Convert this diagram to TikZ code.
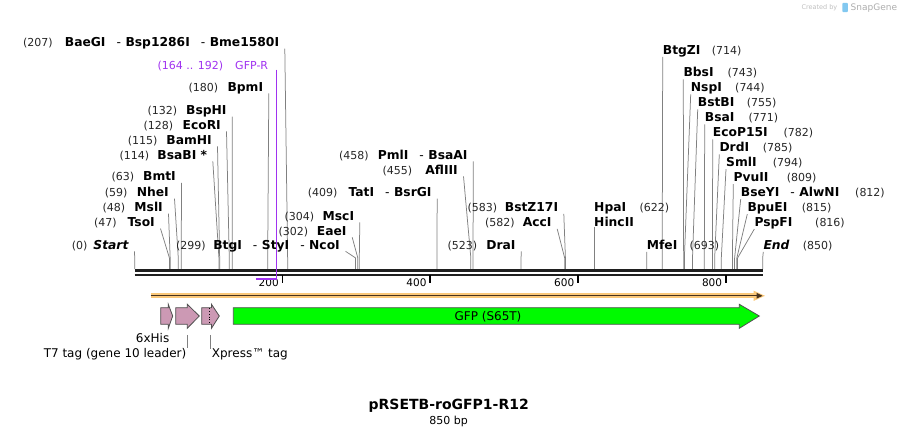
\documentclass[tikz,border=0pt]{standalone}
\usepackage{fontspec}
\setmainfont{DejaVu Sans}[ItalicFont={DejaVu Sans Oblique},
  BoldItalicFont={DejaVu Sans Bold Oblique}]
\usetikzlibrary{arrows.meta}
\definecolor{primerpurple}{RGB}{160,50,240}
\definecolor{orfback}{RGB}{250,200,122}
\definecolor{orfline}{RGB}{70,50,30}
\definecolor{tagpink}{RGB}{204,153,180}
\definecolor{gfpgreen}{RGB}{0,250,0}
\definecolor{featedge}{RGB}{80,80,80}
\definecolor{logoblue}{RGB}{130,200,240}
\tikzstyle{enzyme}=[inner sep=0pt, font=\fontsize{12.3}{14}\selectfont\bfseries]
\tikzstyle{sitenum}=[inner sep=0pt, color=black!85,
  font=\fontsize{11}{13}\selectfont]
\tikzstyle{cutline}=[draw, color=black!50, line width=0.75pt]
\tikzstyle{strand}=[draw, color=black!88]
\tikzstyle{ruler}=[draw, line width=1.7pt]
\tikzstyle{rulernum}=[inner sep=0pt, font=\fontsize{10.5}{12}\selectfont]
\tikzstyle{primer}=[inner sep=0pt, color=primerpurple,
  font=\fontsize{11}{13}\selectfont]
\tikzstyle{primerbar}=[draw=primerpurple, line width=2.3pt]
\tikzstyle{primerline}=[draw=primerpurple, line width=0.9pt]
\tikzstyle{orfbar}=[draw=orfback, line width=5pt]
\tikzstyle{orfarrow}=[draw=orfline, line width=1.2pt,
  -{Triangle[length=6pt,width=5.5pt]}]
\tikzstyle{feature}=[draw=featedge, line width=0.8pt, line join=miter]
\tikzstyle{featlabel}=[inner sep=0pt, font=\fontsize{12}{14}\selectfont]
\tikzstyle{leader}=[draw, color=black!50, line width=0.75pt]
\tikzstyle{mapname}=[inner sep=0pt, font=\fontsize{14}{16}\selectfont\bfseries]
\tikzstyle{maplength}=[inner sep=0pt, font=\fontsize{11}{13}\selectfont]
\tikzstyle{credit}=[inner sep=0pt, color=black!25]
% position of a base pair on the sequence line
\newcommand{\bp}[1]{134.7+#1*0.7388}
\newcommand{\andsite}{\hspace{11pt}{\mdseries-}\hspace{4.5pt}}
% site with its label on the left: id, bp, number x, name end x, row, number, names
\newcommand{\siteleft}[7]{%
  \coordinate (s#1) at ({\bp{#2}},269);
  \coordinate (k#1) at ({\bp{#2}},258);
  \node[sitenum, anchor=base west] (n#1) at (#3,#5+4.6) {#6};
  \node[enzyme, anchor=base east] (e#1) at (#4,#5+4.6) {#7};
  \path[cutline] ([xshift=5.5pt,yshift=-2pt]e#1.base east) -- (k#1) -- (s#1);}
% site with its label on the right: id, bp, name x, number x, row, names, number
\newcommand{\siteright}[7]{%
  \coordinate (s#1) at ({\bp{#2}},269);
  \coordinate (k#1) at ({\bp{#2}},258);
  \node[enzyme, anchor=base west] (e#1) at (#3,#5+4.6) {#6};
  \node[sitenum, anchor=base west] (n#1) at (#4,#5+4.6) {#7};
  \path[cutline] ([yshift=-2.5pt]e#1.base west) -- (k#1) -- (s#1);}
% feature arrow: id, start x, head x, tip x, colour
\newcommand{\tagarrow}[5]{%
  \path[feature, fill=#5] (#2,307.7) -- (#3,307.7) -- (#3,304.3) -- (#4,316)
    -- (#3,328.3) -- (#3,324.3) -- (#2,324.3) -- cycle;
  \coordinate (f#1) at ({(#2+#4)/2},335);}

\begin{document}
\begin{tikzpicture}[x=1pt, y=-1pt]
\useasboundingbox (0,0) rectangle (899,435);

% Draw the sequence and its ruler
\path[strand, line width=3pt] ({\bp{0}},270.7) -- ({\bp{850}},270.7);
\path[strand, line width=2pt] ({\bp{0}},275) -- ({\bp{850}},275);
\foreach \t in {200,400,600,800} {
  \path[ruler] ({\bp{\t}},275.5) -- ++(0,7.5);
  \node[rulernum, anchor=base east] (r\t) at ({\bp{\t}-3.5},286.5) {\t};
}

% Draw the sites, left labels
\siteleft{baegi}{207}{23}{279.3}{42}{(207)}{BaeGI\andsite Bsp1286I\andsite Bme1580I}
\siteleft{bpmi}{180}{188.3}{263.3}{86.7}{(180)}{BpmI}
\siteleft{bsphi}{132}{147.3}{226.7}{110}{(132)}{BspHI}
\siteleft{ecori}{128}{143.3}{221}{124.7}{(128)}{EcoRI}
\siteleft{bamhi}{115}{127.7}{212}{139.7}{(115)}{BamHI}
\siteleft{bsabi}{114}{119.3}{207.3}{154.7}{(114)}{BsaBI *}
\siteleft{bmti}{63}{111.3}{176}{176.3}{(63)}{BmtI}
\siteleft{nhei}{59}{104.7}{169}{192}{(59)}{NheI}
\siteleft{msli}{48}{102.3}{163}{207}{(48)}{MslI}
\siteleft{tsoi}{47}{94}{155}{222}{(47)}{TsoI}
\siteleft{start}{0}{71.7}{129}{244.7}{(0)}{\textit{Start}}
\siteleft{btgi}{299}{176}{340}{244.7}{(299)}{BtgI\andsite StyI\andsite NcoI}
\siteleft{eaei}{302}{278.3}{346.7}{230.7}{(302)}{EaeI}
\siteleft{msci}{304}{284.3}{354.3}{215.7}{(304)}{MscI}
\siteleft{tati}{409}{307.7}{431.7}{192}{(409)}{TatI\andsite BsrGI}
\siteleft{pmli}{458}{339}{467.7}{154.7}{(458)}{PmlI\andsite BsaAI}
\siteleft{afliii}{455}{382.3}{458}{169.7}{(455)}{AflIII}
\siteleft{bstz}{583}{467.3}{558.3}{207.3}{(583)}{BstZ17I}
\siteleft{acci}{582}{485}{551.7}{222.3}{(582)}{AccI}
\siteleft{drai}{523}{447.3}{515.7}{244.7}{(523)}{DraI}

% Draw the sites, right labels
\siteright{btgzi}{714}{662.7}{711.7}{49.7}{BtgZI}{(714)}
\siteright{bbsi}{743}{683.3}{727.3}{72.3}{BbsI}{(743)}
\siteright{nspi}{744}{690.7}{735}{87.3}{NspI}{(744)}
\siteright{bstbi}{755}{697.7}{746.7}{102.3}{BstBI}{(755)}
\siteright{bsai}{771}{704.7}{748.3}{117.3}{BsaI}{(771)}
\siteright{ecop}{782}{712.7}{783.3}{132.3}{EcoP15I}{(782)}
\siteright{drdi}{785}{719.3}{762.7}{147.3}{DrdI}{(785)}
\siteright{smli}{794}{726}{772.7}{162}{SmlI}{(794)}
\siteright{pvuii}{809}{733.3}{786.7}{177}{PvuII}{(809)}
\siteright{bseyi}{812}{740.7}{855}{192}{BseYI\andsite AlwNI}{(812)}
\siteright{bpuei}{815}{747.3}{801.7}{207}{BpuEI}{(815)}
\siteright{pspfi}{816}{754.3}{815}{222}{PspFI}{(816)}
\siteright{end}{850}{763.3}{802.7}{244.7}{\textit{End}}{(850)}
\siteright{mfei}{693}{646.7}{689.3}{244.7}{MfeI}{(693)}
% HpaI and HincII share one site
\coordinate (shpai) at ({\bp{622}},269);
\node[enzyme, anchor=base west] (ehpai) at (594,211.9) {HpaI};
\node[enzyme, anchor=base west] (ehinc) at (594,226.6) {HincII};
\node[sitenum, anchor=base west] (nhpai) at (639.3,211.9) {(622)};
\path[cutline] (shpai |- ehinc.south) -- (shpai);

% Draw the primer
\coordinate (pA) at ({\bp{164}},279);
\coordinate (pB) at ({\bp{192}},279);
\node[primer, anchor=base west] (pn) at (157.3,69.3) {(164 .. 192)};
\node[primer, anchor=base east] (pr) at (268.3,69.3) {GFP-R};
\path[primerbar] (pA) -- (pB);
\path[primerline] (pB |- pr.south) -- (pB);

% Draw the open reading frame
\coordinate (orfA) at (150.7,295.8);
\coordinate (orfB) at (756,295.8);
\coordinate (orfC) at (762.5,295.8);
\path[orfbar] (orfA) -- (orfB);
\fill[orfback] (753.5,290.6) -- (765,295.8) -- (753.5,301) -- cycle;
\path[orfarrow] (orfA) -- (orfC);

% Draw the features
\tagarrow{his}{160.7}{168.3}{172.7}{tagpink}
\tagarrow{tseven}{175.7}{187.3}{199.3}{tagpink}
\tagarrow{xpress}{201.7}{211.5}{219.3}{tagpink}
\tagarrow{gfp}{233.3}{739.3}{759.3}{gfpgreen}
\path[draw, dotted, line width=0.8pt] (209,308.2) -- (209,323.8);
\node[featlabel, anchor=base] (lgfp) at (488,320.5) {GFP (S65T)};
\node[featlabel, anchor=base] (lhis) at (152.6,342.3) {6xHis};
\node[featlabel, anchor=base east] (ltseven) at (186.5,357.5) {T7 tag (gene 10 leader)};
\node[featlabel, anchor=base west] (lxpress) at (211.7,357.5) {Xpress™ tag};
\path[leader] (ftseven) -- (ftseven |- ltseven.north);
\path[leader] (fxpress) -- (fxpress |- lxpress.north);

% Name of the map
\node[mapname, anchor=base] (mname) at (448.7,409) {pRSETB-roGFP1-R12};
\node[maplength, anchor=base] (mlen) at (448.7,424) {850 bp};
\node[credit, anchor=base east, font=\fontsize{6.5}{8}\selectfont] (cby) at (837.5,10) {Created by};
\fill[logoblue, rounded corners=1pt] (842.3,2.8) rectangle (847.8,12.2);
\node[credit, anchor=base west, color=black!32, font=\fontsize{9}{10}\selectfont] (csg) at (850.5,10.5) {SnapGene};
\end{tikzpicture}
\end{document}
